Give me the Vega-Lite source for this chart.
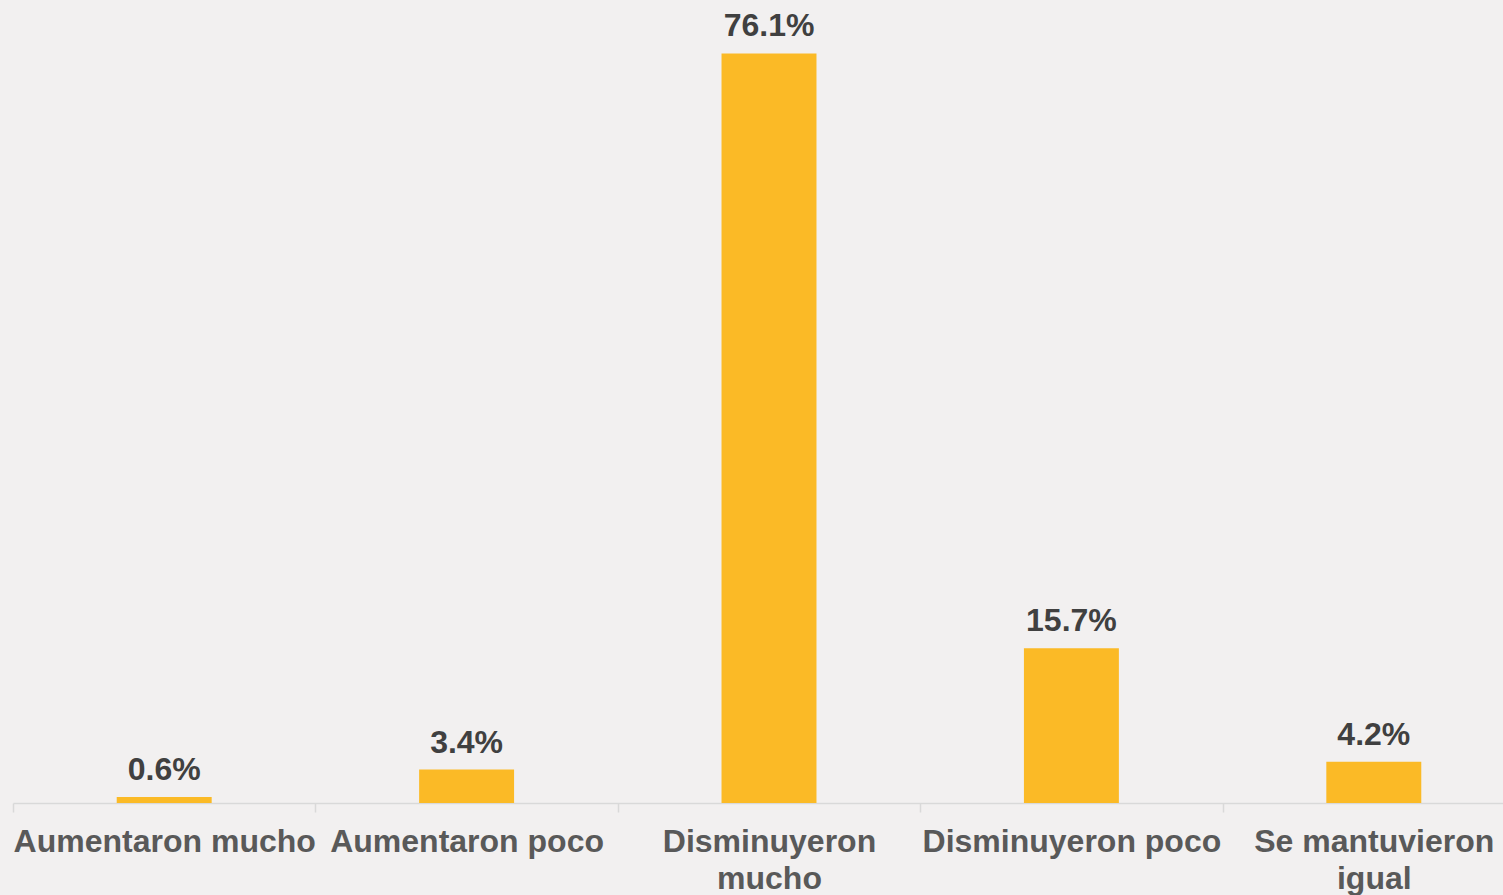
{
  "$schema": "https://vega.github.io/schema/vega-lite/v6.json",
  "width": 1490,
  "height": 788,
  "autosize": {"type": "none"},
  "padding": {"left": 13, "top": 15, "right": 0, "bottom": 92},
  "background": "#F2F0F0",
  "config": {"view": {"stroke": null}, "font": "Liberation Sans"},
  "data": {"values": [
    {"categoria": "Aumentaron mucho", "valor": 0.6},
    {"categoria": "Aumentaron poco", "valor": 3.4},
    {"categoria": "Disminuyeron mucho", "valor": 76.1},
    {"categoria": "Disminuyeron poco", "valor": 15.7},
    {"categoria": "Se mantuvieron igual", "valor": 4.2}
  ]},
  "encoding": {
    "x": {
      "field": "categoria", "type": "nominal", "sort": null,
      "scale": {"range": [0, 1512], "paddingInner": 0, "paddingOuter": 0},
      "axis": {
        "title": null, "labelAngle": 0,
        "domainColor": "#D9D9D9", "domainWidth": 1.5,
        "tickColor": "#D9D9D9", "tickWidth": 1.5, "tickSize": 9, "tickBand": "extent",
        "labelFont": "Liberation Sans", "labelFontSize": 32, "labelFontWeight": "bold",
        "labelColor": "#595959", "labelPadding": 14, "labelLineHeight": 37,
        "labelLimit": 0,
        "labelExpr": "datum.label == 'Disminuyeron mucho' ? ['Disminuyeron', 'mucho'] : datum.label == 'Se mantuvieron igual' ? ['Se mantuvieron', 'igual'] : datum.label"
      }
    },
    "y": {
      "field": "valor", "type": "quantitative",
      "scale": {"domain": [0, 80]},
      "axis": null
    }
  },
  "layer": [
    {"mark": {"type": "bar", "color": "#FBBA26", "width": {"band": 0.314}}},
    {"mark": {"type": "text", "baseline": "alphabetic", "dy": -17, "font": "Liberation Sans", "fontSize": 32, "fontWeight": "bold", "color": "#404040",
              "text": {"expr": "format(datum.valor, '.1f') + '%'"}}}
  ]
}
